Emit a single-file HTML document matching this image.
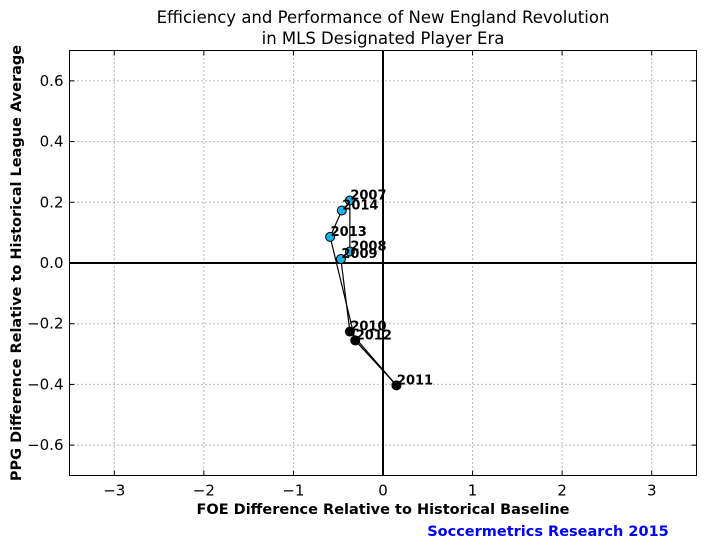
<!DOCTYPE html>
<html><head><meta charset="utf-8"><style>
body{margin:0;background:#fff;}
svg text{font-family:"DejaVu Sans","Liberation Sans",sans-serif;}
</style></head><body>
<svg id="chart" width="704" height="541" xmlns="http://www.w3.org/2000/svg">
<rect width="704" height="541" fill="#fff"/>
<text x="383" y="23" font-size="16.5" text-anchor="middle">Efficiency and Performance of New England Revolution</text>
<text x="383" y="44" font-size="16.5" text-anchor="middle">in MLS Designated Player Era</text>
<g id="grid"></g>
<g id="axes"></g>
<g id="series"></g>
<rect x="69.5" y="50.5" width="627" height="425" fill="none" stroke="#000" stroke-width="1"/>
<text x="383" y="514" font-size="14.5" font-weight="bold" text-anchor="middle">FOE Difference Relative to Historical Baseline</text>
<text transform="translate(21,263) rotate(-90)" font-size="14.5" font-weight="bold" text-anchor="middle">PPG Difference Relative to Historical League Average</text>
<text x="548" y="536" font-size="14.5" font-weight="bold" fill="#0000ff" text-anchor="middle">Soccermetrics Research 2015</text>
</svg>
<script>
const years = ["2007","2008","2009","2010","2011","2012","2013","2014"];
const foe = [-0.37,-0.37,-0.47,-0.37,0.15,-0.31,-0.59,-0.46];
const ppg = [0.206,0.038,0.013,-0.226,-0.403,-0.255,0.086,0.173];
const xTicks = [-3,-2,-1,0,1,2,3];
const yTicks = [-0.6,-0.4,-0.2,0.0,0.2,0.4,0.6];
const L=69.5,R=696.5,T=50.5,B=475.5;
const sx=v=>L+(v+3.5)/7*(R-L);
const sy=v=>B-(v+0.7)/1.4*(B-T);
const NS="http://www.w3.org/2000/svg";
function mk(tag,attrs,parent){const e=document.createElementNS(NS,tag);for(const k in attrs)e.setAttribute(k,attrs[k]);parent.appendChild(e);return e;}
const grid=document.getElementById('grid'),axes=document.getElementById('axes'),series=document.getElementById('series');
xTicks.forEach(v=>{
  const x=sx(v);
  const g=mk('line',{x1:x,x2:x,y1:T,y2:B,stroke:'#777','stroke-dasharray':'1,3'},grid);
  
  
  mk('line',{x1:x,x2:x,y1:B,y2:B-5,stroke:'#000'},axes);
  mk('line',{x1:x,x2:x,y1:T,y2:T+5,stroke:'#000'},axes);
  const t=mk('text',{x:x,y:B+20,'font-size':15,'text-anchor':'middle'},axes);
  t.textContent=(v<0?'\u2212'+Math.abs(v):v);
  
  
});
yTicks.forEach(v=>{
  const y=sy(v);
  const g=mk('line',{x1:L,x2:R,y1:y,y2:y,stroke:'#777','stroke-dasharray':'1,3'},grid);
  
  
  mk('line',{x1:L,x2:L+5,y1:y,y2:y,stroke:'#000'},axes);
  mk('line',{x1:R,x2:R-5,y1:y,y2:y,stroke:'#000'},axes);
  const t=mk('text',{x:L-6,y:y+5,'font-size':15,'text-anchor':'end'},axes);
  t.textContent=(v<0?'\u2212'+Math.abs(v).toFixed(1):v.toFixed(1));
  
  
});
const h=mk('line',{x1:L,x2:R,y1:sy(0),y2:sy(0),stroke:'#000','stroke-width':2},axes);


const vl=mk('line',{x1:sx(0),x2:sx(0),y1:T,y2:B,stroke:'#000','stroke-width':2},axes);


for(let i=0;i<years.length-1;i++){
  const s=mk('line',{x1:sx(foe[i]),y1:sy(ppg[i]),x2:sx(foe[i+1]),y2:sy(ppg[i+1]),stroke:'#000','stroke-width':1.2},series);
  
  
}
years.forEach((yr,i)=>{
  const c=mk('circle',{cx:sx(foe[i]),cy:sy(ppg[i]),r:4.5,fill:ppg[i]>=0?'#1ab0e8':'#000',stroke:'#000','stroke-width':1},series);
  
  
  const t=mk('text',{x:sx(foe[i])+0.5,y:sy(ppg[i])-1,'font-size':13,'font-weight':'bold'},series);
  t.textContent=yr;
  
  
});
</script>
</body></html>
